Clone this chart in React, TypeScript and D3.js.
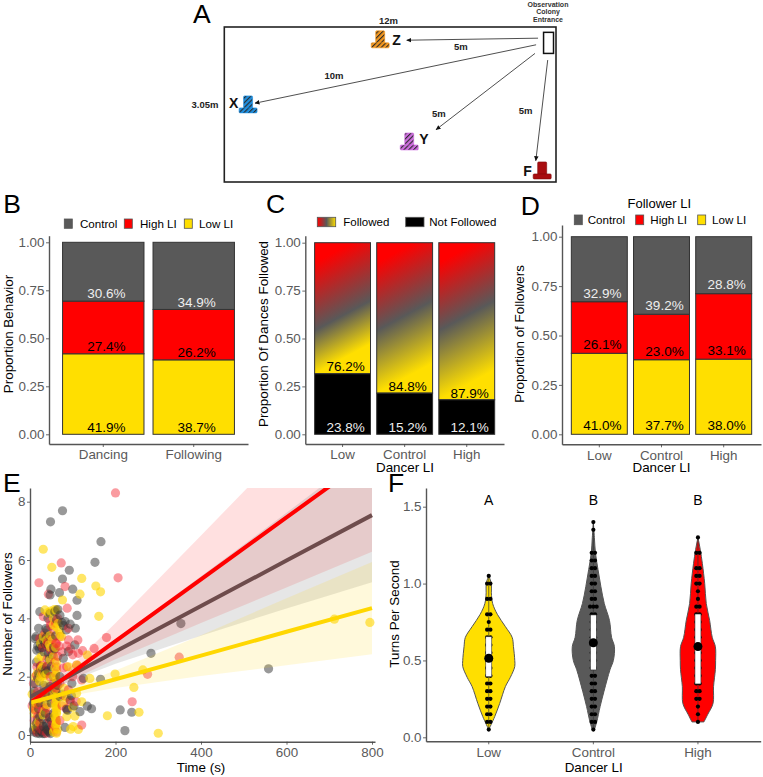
import React, { useEffect, useRef } from "react";
import * as d3 from "d3";

const FONT = "'Liberation Sans', Arial, sans-serif";
const GRAY = "#595959";
const RED = "#ff0000";
const YELLOW = "#ffdf00";

// panel A, field positions in metres
const sites = [
  { name: "Z", x: 5.64, y: 0.41, color: "#f5981f", hatch: true, labelDx: 12, labelDy: -3 },
  { name: "X", x: 0.86, y: 1.69, color: "#1f8fe0", hatch: true, labelDx: -19, labelDy: -5 },
  { name: "Y", x: 6.69, y: 2.42, color: "#cf6fe0", hatch: true, labelDx: 10, labelDy: -6 },
  { name: "F", x: 11.5, y: 2.99, color: "#a80d10", hatch: false, labelDx: -19, labelDy: -3 },
];
const arrows = [
  [11.35, 0.22, 6.6, 0.26],
  [11.28, 0.35, 1.11, 1.5],
  [11.24, 0.52, 7.66, 2.02],
  [11.7, 0.65, 11.27, 2.63],
];
const distanceLabels = [
  ["12m", 5.94, -0.065],
  ["5m", 8.56, 0.46],
  ["10m", 3.97, 1.02],
  ["5m", 7.76, 1.77],
  ["5m", 10.9, 1.71],
];

// panels B, C, D
const behaviorCats = ["Dancing", "Following"];
const behaviorLow = [41.9, 38.7];
const behaviorHigh = [27.4, 26.2];
const behaviorControl = [30.6, 34.9];

const dancerCats = ["Low", "Control", "High"];
const notFollowedHeight = [0.316, 0.215, 0.18];
const notFollowedLabel = [23.8, 15.2, 12.1];
const followedLabel = [76.2, 84.8, 87.9];

const followerLow = [41.0, 37.7, 38.0];
const followerHigh = [26.1, 23.0, 33.1];
const followerControl = [32.9, 39.2, 28.8];

// panel E, [time, followers]
const controlPoints = [
  [48, 7.31], [76, 7.69], [166, 6.63], [152, 5.92], [92, 5.65], [76, 5.35], [100, 5.0], [110, 4.62], [47, 4.8],
  [49, 5.0], [69, 4.88], [23, 4.23], [110, 4.1], [94, 3.8], [106, 3.66], [82, 3.89], [20, 3.66], [14, 3.37],
  [70, 4.11], [47, 4.17], [58, 4.23], [105, 3.09], [90, 2.86], [78, 2.63], [47, 3.37], [35, 3.14], [16, 2.91],
  [31, 3.26], [43, 2.8], [283, 2.8], [353, 3.82], [165, 1.91], [125, 1.94], [98, 1.77], [94, 1.2], [117, 0.8],
  [86, 0.88], [134, 0.99], [144, 0.9], [211, 0.86], [238, 0.78], [222, 0.15], [82, 0.26], [31, 0.29], [16, 0.06],
  [8, 0.17], [39, 0.4], [23, 0.63], [35, 2.11], [30, 2.23], [39, 2.34], [12, 1.77], [20, 2.11], [47, 1.66],
  [70, 1.31], [8, 1.09], [15, 0.4], [25, 0.15], [45, 0.1], [50, 0.5], [10, 0.1], [30, 0.05], [40, 0.2], [55, 0.75],
  [20, 0.9], [35, 1.05], [28, 1.35], [60, 1.5], [10, 1.5], [50, 1.1], [15, 2.5], [45, 2.6], [55, 3.0], [60, 3.4],
  [40, 3.6], [25, 3.1], [65, 4.3], [88, 0.85], [103, 1.0], [75, 1.4], [97, 1.35], [558, 2.27],
  [12, 3.3], [18, 3.05], [22, 2.95], [28, 3.0], [33, 2.85], [38, 3.35], [42, 3.1], [30, 3.4], [37, 3.65], [52, 2.75],
  [58, 2.95], [18, 0.25], [22, 0.05], [28, 0.1], [34, 0.05], [38, 0.3], [42, 0.15], [48, 0.05], [52, 0.25], [14, 0.2],
  [18, 0.55], [30, 0.55], [36, 0.75], [46, 0.6], [24, 1.1], [42, 1.3], [12, 1.2], [52, 1.4], [32, 1.7], [18, 1.95],
  [42, 2.2], [50, 2.35], [55, 2.0], [65, 1.7], [70, 2.0], [78, 3.75], [85, 3.6], [75, 3.85], [42, 4.0], [62, 3.95],
  [35, 2.2], [24, 2.35],
];
const highPoints = [
  [200, 8.3], [206, 5.39], [73, 5.9], [21, 5.22], [82, 5.09], [43, 4.83], [87, 4.35], [31, 4.06], [60, 3.83],
  [90, 3.66], [90, 3.26], [112, 3.26], [179, 3.34], [150, 2.97], [113, 2.8], [123, 2.89], [62, 3.14], [39, 3.09],
  [86, 3.05], [16, 2.34], [27, 2.4], [62, 2.34], [86, 2.34], [109, 2.4], [121, 1.89], [275, 2.08], [349, 2.67],
  [239, 1.14], [121, 0.34], [94, 1.14], [31, 0.91], [12, 0.86], [39, 0.06], [59, 0.29], [23, 0.4], [59, 1.14],
  [70, 1.77], [8, 1.77], [47, 2.0], [55, 2.91], [35, 3.49], [70, 3.37], [47, 3.89], [23, 3.31], [5, 1.0], [18, 1.5],
  [45, 0.7], [35, 1.3], [70, 0.5], [55, 0.2], [10, 0.5], [40, 2.6], [65, 2.7], [52, 3.3], [75, 1.0], [100, 2.0],
  [30, 2.1], [25, 0.2],
  [30, 3.0], [42, 3.2], [55, 3.6], [60, 3.15], [68, 3.05], [75, 2.85], [48, 2.9], [95, 2.95], [100, 2.75], [15, 2.05],
  [25, 2.3], [40, 2.35], [55, 1.8], [62, 1.6], [20, 1.05], [28, 0.8], [38, 0.95], [45, 0.55], [52, 0.35], [16, 0.1],
  [30, 0.15], [62, 0.1], [80, 1.35], [90, 1.55], [60, 2.1], [58, 2.5], [78, 2.3], [108, 1.15], [48, 3.75], [65, 4.0],
  [85, 0.9], [18, 0.65],
];
const lowPoints = [
  [31, 6.37], [51, 5.75], [121, 5.37], [154, 5.11], [165, 4.91], [117, 4.83], [76, 4.63], [161, 4.07], [35, 4.29],
  [61, 4.29], [55, 3.77], [66, 3.83], [74, 3.37], [31, 3.37], [47, 3.41], [27, 2.69], [134, 2.74], [140, 1.94],
  [199, 2.09], [264, 2.23], [243, 1.63], [181, 0.66], [255, 0.78], [300, 0.06], [113, 0.19], [101, 0.29], [86, 0.63],
  [121, 1.14], [109, 1.43], [62, 0.74], [59, 0.97], [62, 0.4], [62, 0.06], [12, 0.32], [31, 0.69], [8, 0.91],
  [12, 2.0], [31, 2.06], [27, 2.29], [62, 1.77], [62, 2.23], [90, 2.34], [35, 1.77], [47, 2.57], [712, 3.97],
  [795, 3.86], [60, 1.3], [62, 1.0], [60, 0.55], [65, 0.2], [62, 0.9], [55, 2.0], [45, 3.1], [60, 3.0], [25, 2.0],
  [40, 1.5], [15, 1.1], [5, 1.4], [20, 2.6], [80, 1.6], [110, 2.4], [62, 2.5], [68, 3.6], [55, 4.0],
  [55, 0.1], [58, 0.2], [60, 0.35], [62, 0.5], [58, 0.65], [62, 0.8], [60, 1.1], [62, 1.2], [58, 1.4], [60, 1.55],
  [62, 1.85], [60, 2.05], [58, 2.3], [18, 2.15], [22, 1.85], [28, 2.1], [35, 2.05], [40, 2.1], [30, 2.35], [15, 0.2],
  [20, 0.45], [35, 0.85], [40, 1.05], [25, 3.15], [38, 3.25], [52, 3.25], [42, 4.2], [48, 4.25], [57, 4.3], [62, 3.7],
  [70, 3.45], [78, 1.1], [85, 1.3], [100, 0.95], [105, 0.65], [95, 0.2], [10, 0.75], [25, 1.25], [48, 3.0], [55, 2.7],
];

const timeGrid = [0, 70, 100, 200, 400, 600, 800];
const highFit = [1.1, 1.84, 2.16, 3.22, 5.34, 7.46, 9.58];
const highUpper = [1.45, 2.04, 2.41, 3.84, 6.84, 9.86, 12.88];
const highLower = [0.75, 1.64, 1.91, 2.6, 3.84, 5.06, 6.28];
const controlFit = [1.3, 1.85, 2.08, 2.86, 4.42, 5.98, 7.54];
const controlUpper = [1.6, 2.0, 2.28, 3.28, 5.44, 7.62, 9.84];
const controlLower = [1.0, 1.7, 1.88, 2.44, 3.4, 4.34, 5.24];
const lowFit = [1.1, 1.38, 1.51, 1.91, 2.72, 3.54, 4.35];
const lowUpper = [1.35, 1.5, 1.66, 2.21, 3.42, 4.69, 5.93];
const lowLower = [0.85, 1.26, 1.36, 1.61, 2.02, 2.39, 2.77];

// panel F, violin outline [turns, density]
const lowViolin = [
  [0.05, 0], [0.135, 0.23], [0.22, 0.42], [0.33, 0.64], [0.39, 0.83], [0.46, 1.0], [0.5, 1.0], [0.59, 0.95],
  [0.65, 0.9], [0.72, 0.64], [0.8, 0.33], [0.87, 0.15], [0.94, 0.1], [1.0, 0.1], [1.05, 0],
];
const controlViolin = [
  [0.05, 0.04], [0.1, 0.13], [0.2, 0.26], [0.3, 0.41], [0.44, 0.64], [0.5, 0.77], [0.59, 0.81], [0.65, 0.7],
  [0.76, 0.62], [0.87, 0.42], [0.98, 0.29], [1.09, 0.18], [1.2, 0.08], [1.3, 0.04], [1.4, 0],
];
const highViolin = [
  [0.1, 0.23], [0.15, 0.38], [0.22, 0.58], [0.33, 0.6], [0.44, 0.67], [0.5, 0.68], [0.59, 0.67], [0.65, 0.55],
  [0.76, 0.45], [0.87, 0.32], [1.0, 0.26], [1.13, 0.17], [1.22, 0.09], [1.3, 0],
];
const lowDots = [
  [0.05, 1], [0.1, 2], [0.15, 2], [0.2, 2], [0.25, 2], [0.3, 2], [0.35, 2], [0.4, 2], [0.45, 2], [0.5, 2], [0.55, 2],
  [0.6, 2], [0.65, 2], [0.7, 2], [0.75, 1], [0.8, 2], [0.9, 2], [1.0, 2], [1.05, 1],
];
const controlDots = [
  [0.05, 1], [0.1, 2], [0.15, 2], [0.2, 2], [0.25, 2], [0.3, 2], [0.35, 2], [0.4, 2], [0.45, 2], [0.5, 2], [0.55, 2],
  [0.6, 2], [0.65, 2], [0.7, 2], [0.75, 2], [0.8, 2], [0.85, 3], [0.9, 2], [0.95, 2], [1.0, 2], [1.05, 2], [1.1, 2],
  [1.15, 2], [1.2, 2], [1.35, 1], [1.4, 1],
];
const highDots = [
  [0.1, 1], [0.15, 1], [0.2, 1], [0.25, 2], [0.3, 2], [0.35, 2], [0.4, 2], [0.45, 2], [0.5, 2], [0.55, 2], [0.6, 2],
  [0.65, 2], [0.7, 2], [0.75, 2], [0.8, 2], [0.85, 2], [0.9, 1], [0.95, 1], [1.0, 2], [1.05, 2], [1.1, 2], [1.2, 2],
  [1.3, 1],
];
const boxQ1 = [0.394, 0.438, 0.347];
const boxQ3 = [0.654, 0.796, 0.802];
const turnsMean = [0.514, 0.615, 0.59];
const turnsMin = [0.05, 0.05, 0.1];
const turnsMax = [1.05, 1.4, 1.3];
const sigLetters = ["A", "B", "B"];

const App = () => {
  const ref = useRef<SVGSVGElement>(null);

  useEffect(() => {
    const svg = d3.select(ref.current);
    svg.selectAll("*").remove();
    const defs = svg.append("defs");

    const text = (str: string, x: number, y: number, size: number, opts: any = {}) =>
      svg
        .append("text")
        .attr("x", x)
        .attr("y", y)
        .attr("font-family", FONT)
        .attr("font-size", size)
        .attr("font-weight", opts.weight || "normal")
        .attr("text-anchor", opts.anchor || "start")
        .attr("fill", opts.fill || "#000")
        .text(str);

    const rotatedTitle = (str: string, x: number, y: number) =>
      text(str, 0, 0, 13.4, { anchor: "middle" }).attr("transform", `translate(${x},${y}) rotate(-90)`);

    // axis drawn on a copy of the scale stretched out to the panel edges
    const leftAxis = (y: any, x0: number, bottom: number, top: number, ticks: number[], fmt: any) => {
      const s = y.copy().domain([y.invert(bottom), y.invert(top)]).range([bottom, top]);
      const g = svg
        .append("g")
        .attr("transform", `translate(${x0},0)`)
        .call(d3.axisLeft(s).tickValues(ticks).tickFormat(fmt).tickSizeInner(3).tickSizeOuter(0).tickPadding(1.5));
      styleAxis(g);
    };
    const bottomAxis = (x: any, y0: number, ticks?: number[], fmt?: any) => {
      const axis = d3.axisBottom(x).tickSizeInner(3).tickSizeOuter(0).tickPadding(2.8);
      if (ticks) axis.tickValues(ticks).tickFormat(fmt);
      const g = svg.append("g").attr("transform", `translate(0,${y0})`).call(axis);
      styleAxis(g);
    };
    const styleAxis = (g: any) => {
      g.attr("font-family", FONT).attr("font-size", 13.4);
      g.select(".domain").attr("stroke", "#555").attr("stroke-width", 1.4);
      g.selectAll(".tick line").attr("stroke", "#444").attr("stroke-width", 0.8);
      g.selectAll(".tick text").attr("fill", "#5a5a5a");
    };

    const bandScale = (cats: string[], x0: number, x1: number) =>
      d3.scaleBand().domain(cats).range([x0, x1]).paddingInner(0.1).paddingOuter(0.15);

    const legendSwatch = (x: number, y: number, w: number, h: number, fill: string) =>
      svg.append("rect").attr("x", x).attr("y", y).attr("width", w).attr("height", h).attr("fill", fill)
        .attr("stroke", "#555").attr("stroke-width", 0.8);

    const drawStack = (cats: string[], x: any, y: any, low: number[], high: number[], control: number[], gap: number) => {
      cats.forEach((c, i) => {
        const total = low[i] + high[i] + control[i];
        const stack = [
          { v: low[i], fill: YELLOW, label: "#000" },
          { v: high[i], fill: RED, label: "#000" },
          { v: control[i], fill: GRAY, label: "#eee" },
        ];
        let acc = 0;
        stack.forEach((s) => {
          const y0 = y(acc / total);
          const y1 = y((acc + s.v) / total);
          svg.append("rect").attr("x", x(c)).attr("y", y1).attr("width", x.bandwidth()).attr("height", y0 - y1)
            .attr("fill", s.fill).attr("stroke", "#333").attr("stroke-width", 1);
          acc += s.v;
        });
        acc = 0;
        stack.forEach((s) => {
          const y0 = y(acc / total);
          text(s.v.toFixed(1) + "%", x(c) + x.bandwidth() / 2 + 3, y0 - gap, 13.5, { anchor: "middle", fill: s.label });
          acc += s.v;
        });
      });
    };

    // ---- panel A
    const fx = d3.scaleLinear().domain([0, 12]).range([224.3, 556]);
    const fy = d3.scaleLinear().domain([0, 3.05]).range([27, 182]);
    text("A", 193, 23, 26.5);
    svg.append("rect").attr("x", fx(0)).attr("y", fy(0)).attr("width", fx(12) - fx(0)).attr("height", fy(3.05) - fy(0))
      .attr("fill", "none").attr("stroke", "#222").attr("stroke-width", 1.6);
    const observation = ["Observation", "Colony", "Entrance"];
    observation.forEach((s, i) => text(s, 548, 6.7 + i * 7.5, 7, { anchor: "middle", weight: "bold", fill: "#333" }));
    svg.append("rect").attr("x", fx(11.55)).attr("y", fy(0.105)).attr("width", fx(11.91) - fx(11.55))
      .attr("height", fy(0.52) - fy(0.105)).attr("fill", "#fff").attr("stroke", "#111").attr("stroke-width", 1.5);
    defs.append("marker").attr("id", "arrowHead").attr("viewBox", "0 0 10 10").attr("refX", 9).attr("refY", 5)
      .attr("markerWidth", 5).attr("markerHeight", 5).attr("markerUnits", "userSpaceOnUse").attr("orient", "auto")
      .append("path").attr("d", "M0,0.5L10,5L0,9.5Z").attr("fill", "#111");
    arrows.forEach((a) => {
      svg.append("line").attr("x1", fx(a[0])).attr("y1", fy(a[1])).attr("x2", fx(a[2])).attr("y2", fy(a[3]))
        .attr("stroke", "#222").attr("stroke-width", 0.8).attr("marker-end", "url(#arrowHead)");
    });
    distanceLabels.forEach((d: any) =>
      text(d[0], fx(d[1]), fy(d[2]), 9.5, { anchor: "middle", weight: "bold", fill: "#222" }));
    text("3.05m", 205, 107.7, 9.5, { anchor: "middle", weight: "bold", fill: "#222" });
    sites.forEach((s) => {
      const cx = fx(s.x);
      const by = fy(s.y);
      let fill = s.color;
      if (s.hatch) {
        const pat = defs.append("pattern").attr("id", "hatch" + s.name).attr("width", 3.4).attr("height", 3.4)
          .attr("patternUnits", "userSpaceOnUse").attr("patternTransform", "rotate(-45)");
        pat.append("rect").attr("width", 3.4).attr("height", 3.4).attr("fill", s.color);
        pat.append("rect").attr("width", 3.4).attr("height", 1.1).attr("fill", "#2a2a2a");
        fill = `url(#hatch${s.name})`;
      }
      const edge = s.hatch ? s.color : "#7d0a0c";
      svg.append("rect").attr("x", cx - 4.5).attr("y", by - 17).attr("width", 9).attr("height", 13).attr("rx", 1)
        .attr("fill", fill).attr("stroke", edge).attr("stroke-width", 0.6);
      svg.append("rect").attr("x", cx - 9).attr("y", by - 5).attr("width", 18).attr("height", 5).attr("rx", 1)
        .attr("fill", fill).attr("stroke", edge).attr("stroke-width", 0.6);
      text(s.name, cx + s.labelDx, by + s.labelDy, 14, { weight: "bold", fill: "#111" });
    });

    // ---- panel B
    const xB = bandScale(behaviorCats, 49, 248);
    const yB = d3.scaleLinear().domain([0, 1]).range([434.3, 242.3]);
    text("B", 3.3, 213, 26.5);
    drawStack(behaviorCats, xB, yB, behaviorLow, behaviorHigh, behaviorControl, 2.7);
    leftAxis(yB, 49, 444, 235.7, [0, 0.25, 0.5, 0.75, 1], d3.format(".2f"));
    bottomAxis(xB, 444);
    rotatedTitle("Proportion Behavior", 13, 334);
    legendSwatch(64.3, 219, 8, 9.3, GRAY);
    text("Control", 80, 228.3, 11.6);
    legendSwatch(124.3, 219, 8, 9.3, RED);
    text("High LI", 140, 228.3, 11.6);
    legendSwatch(184.3, 219, 8, 9.3, YELLOW);
    text("Low LI", 199, 228.3, 11.6);

    // ---- panel C
    const xC = bandScale(dancerCats, 305.3, 504);
    const yC = d3.scaleLinear().domain([0, 1]).range([434.3, 242.7]);
    text("C", 266, 212.7, 26.5);
    const slant = [0.472, 0.881];
    dancerCats.forEach((c, i) => {
      const x0 = xC(c) as number;
      const top = yC(1);
      const boundary = yC(notFollowedHeight[i]);
      const span = boundary - top;
      const reach = span * slant[1];
      const grad = defs.append("linearGradient").attr("id", "follow" + i).attr("gradientUnits", "userSpaceOnUse")
        .attr("x1", x0).attr("y1", top).attr("x2", x0 + slant[0] * reach).attr("y2", top + slant[1] * reach);
      grad.append("stop").attr("offset", 20 / span).attr("stop-color", RED);
      grad.append("stop").attr("offset", 88 / span).attr("stop-color", GRAY);
      grad.append("stop").attr("offset", 1).attr("stop-color", YELLOW);
      svg.append("rect").attr("x", x0).attr("y", top).attr("width", xC.bandwidth()).attr("height", boundary - top)
        .attr("fill", `url(#follow${i})`).attr("stroke", "#333").attr("stroke-width", 1);
      svg.append("rect").attr("x", x0).attr("y", boundary).attr("width", xC.bandwidth()).attr("height", yC(0) - boundary)
        .attr("fill", "#000").attr("stroke", "#333").attr("stroke-width", 1);
      const cx = x0 + xC.bandwidth() / 2 + 3;
      text(followedLabel[i].toFixed(1) + "%", cx, boundary - 2.3, 13.5, { anchor: "middle" });
      text(notFollowedLabel[i].toFixed(1) + "%", cx, yC(0) - 2.2, 13.5, { anchor: "middle", fill: "#eee" });
    });
    leftAxis(yC, 305.3, 444, 235.7, [0, 0.25, 0.5, 0.75, 1], d3.format(".2f"));
    bottomAxis(xC, 444);
    rotatedTitle("Proportion Of Dances Followed", 268, 334);
    text("Dancer LI", 405, 471.8, 13.4, { anchor: "middle" });
    const legendGrad = defs.append("linearGradient").attr("id", "followLegend");
    [RED, GRAY, YELLOW].forEach((col, i) => legendGrad.append("stop").attr("offset", i / 2).attr("stop-color", col));
    legendSwatch(317.3, 217.3, 18.4, 9.4, "url(#followLegend)");
    text("Followed", 343.3, 226.3, 11.5);
    legendSwatch(405.7, 217.3, 18.3, 9.4, "#000");
    text("Not Followed", 429.3, 226.3, 11.5);

    // ---- panel D
    const xD = bandScale(dancerCats, 562, 761);
    const yD = d3.scaleLinear().domain([0, 1]).range([434.3, 236.7]);
    text("D", 520.7, 215, 26.5);
    drawStack(dancerCats, xD, yD, followerLow, followerHigh, followerControl, 4.2);
    leftAxis(yD, 562, 444.3, 225, [0, 0.25, 0.5, 0.75, 1], d3.format(".2f"));
    bottomAxis(xD, 444.3);
    rotatedTitle("Proportion of Followers", 524, 334);
    text("Dancer LI", 661.5, 471.8, 13.4, { anchor: "middle" });
    text("Follower LI", 659.3, 208.3, 13, { anchor: "middle" });
    legendSwatch(574.3, 215, 8, 9.7, GRAY);
    text("Control", 587.7, 224.3, 11.6);
    legendSwatch(635.7, 215, 8, 9.7, RED);
    text("High LI", 650.3, 224.3, 11.6);
    legendSwatch(697.7, 215, 8, 9.7, YELLOW);
    text("Low LI", 712, 224.3, 11.6);

    // ---- panel E
    const xE = d3.scaleLinear().domain([0, 800]).range([30, 372]);
    const yE = d3.scaleLinear().domain([0, 8]).range([735, 501.7]);
    text("E", 3, 491.7, 26.5);
    // one layer sorted by time so the groups mix the way they do in the original
    const allPoints = [
      ...controlPoints.map((p) => ({ p, fill: "#333", alpha: 0.5 })),
      ...highPoints.map((p) => ({ p, fill: "#f5222d", alpha: 0.45 })),
      ...lowPoints.map((p) => ({ p, fill: "#ffd500", alpha: 0.6 })),
    ].sort((a, b) => d3.ascending(a.p[0], b.p[0]));
    svg.append("g").selectAll("circle").data(allPoints).enter().append("circle")
      .attr("cx", (d) => xE(d.p[0])).attr("cy", (d) => yE(d.p[1])).attr("r", 4.6)
      .attr("fill", (d) => d.fill).attr("fill-opacity", (d) => d.alpha);
    defs.append("clipPath").attr("id", "panelE").append("rect").attr("x", 30).attr("y", 488)
      .attr("width", 345).attr("height", 254);
    const smooth = svg.append("g").attr("clip-path", "url(#panelE)");
    const ribbon = (upper: number[], lower: number[], color: string, alpha: number) => {
      const area = d3.area<number>().x((t) => xE(t)).y0((_, i) => yE(lower[i])).y1((_, i) => yE(upper[i]));
      smooth.append("path").attr("d", area(timeGrid)).attr("fill", color).attr("fill-opacity", alpha);
    };
    const fitLine = (fit: number[], color: string) => {
      const line = d3.line<number>().x((t) => xE(t)).y((_, i) => yE(fit[i]));
      smooth.append("path").attr("d", line(timeGrid)).attr("fill", "none").attr("stroke", color).attr("stroke-width", 4);
    };
    ribbon(highUpper, highLower, RED, 0.12);
    ribbon(controlUpper, controlLower, "#555", 0.15);
    ribbon(lowUpper, lowLower, "#ffd700", 0.14);
    fitLine(controlFit, "#6e4c4c");
    fitLine(highFit, RED);
    fitLine(lowFit, "#ffd700");
    leftAxis(yE, 30, 741.7, 488, [0, 2, 4, 6, 8], d3.format("d"));
    bottomAxis(xE.copy().domain([0, 807]).range([30, 375]), 741.7, [0, 200, 400, 600, 800], d3.format("d"));
    rotatedTitle("Number of Followers", 12, 614);
    text("Time (s)", 201, 772, 13.4, { anchor: "middle" });

    // ---- panel F
    const xF = bandScale(dancerCats, 426, 760.7);
    const yF = d3.scaleLinear().domain([0, 1.5]).range([737.3, 506.7]);
    const widthF = d3.scaleLinear().domain([0, 1]).range([0, 26]);
    text("F", 388, 492, 26.5);
    const violins = [lowViolin, controlViolin, highViolin];
    const dots = [lowDots, controlDots, highDots];
    const fills = [YELLOW, GRAY, RED];
    dancerCats.forEach((c, i) => {
      const cx = (xF(c) as number) + xF.bandwidth() / 2;
      const shape = d3.area<number[]>().curve(d3.curveCatmullRom)
        .y((d) => yF(d[0])).x0((d) => cx - widthF(d[1])).x1((d) => cx + widthF(d[1]));
      svg.append("path").attr("d", shape(violins[i]) + "Z").attr("fill", fills[i]).attr("stroke", "#555").attr("stroke-width", 1);
      svg.append("line").attr("x1", cx).attr("x2", cx).attr("y1", yF(turnsMin[i])).attr("y2", yF(turnsMax[i]))
        .attr("stroke", "#333").attr("stroke-width", 0.7);
      dots[i].forEach((d) => {
        d3.range(d[1]).forEach((k) => {
          svg.append("circle").attr("cx", cx + (k - (d[1] - 1) / 2) * 3.3).attr("cy", yF(d[0])).attr("r", 2.1).attr("fill", "#000");
        });
      });
      svg.append("rect").attr("x", cx - 3).attr("width", 6).attr("y", yF(boxQ3[i])).attr("height", yF(boxQ1[i]) - yF(boxQ3[i]))
        .attr("fill", "#fff").attr("stroke", "#333").attr("stroke-width", 0.6);
      svg.append("circle").attr("cx", cx).attr("cy", yF(turnsMean[i])).attr("r", 4.5).attr("fill", "#000");
      text(sigLetters[i], cx, 505, 14, { anchor: "middle" });
    });
    leftAxis(yF, 426, 741.3, 488, [0, 0.5, 1, 1.5], d3.format(".1f"));
    bottomAxis(xF, 741.3);
    rotatedTitle("Turns Per Second", 399, 614);
    text("Dancer LI", 593.7, 772, 13.4, { anchor: "middle" });
  }, []);

  return <svg ref={ref} width={763} height={777} style={{ position: "absolute", left: 0, top: 0, background: "#fff" }} />;
};

export default App;
